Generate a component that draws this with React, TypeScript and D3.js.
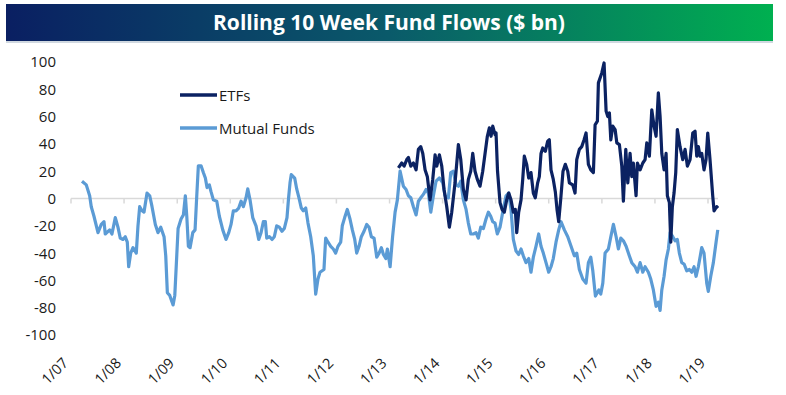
import React from "react";
import * as d3 from "d3";

// Mutual Funds rolling 10-week flows ($ bn), dates as decimal years
const mfDates = [
  2007.207, 2007.288, 2007.352, 2007.382, 2007.433, 2007.509, 2007.571, 2007.622, 2007.646, 2007.729,
  2007.772, 2007.835, 2007.885, 2007.929, 2007.980, 2008.023, 2008.061, 2008.087, 2008.125, 2008.168,
  2008.230, 2008.262, 2008.294, 2008.338, 2008.375, 2008.432, 2008.483, 2008.526, 2008.588, 2008.639,
  2008.690, 2008.752, 2008.784, 2008.814, 2008.859, 2008.922, 2008.954, 2009.016, 2009.072, 2009.116,
  2009.153, 2009.180, 2009.210, 2009.242, 2009.293, 2009.336, 2009.368, 2009.398, 2009.449, 2009.492,
  2009.530, 2009.562, 2009.605, 2009.637, 2009.681, 2009.745, 2009.794, 2009.858, 2009.920, 2009.971,
  2010.014, 2010.058, 2010.108, 2010.159, 2010.203, 2010.246, 2010.297, 2010.329, 2010.372, 2010.423,
  2010.485, 2010.536, 2010.580, 2010.623, 2010.661, 2010.687, 2010.736, 2010.787, 2010.830, 2010.875,
  2010.924, 2010.975, 2011.018, 2011.069, 2011.098, 2011.126, 2011.150, 2011.214, 2011.252, 2011.295,
  2011.339, 2011.376, 2011.422, 2011.465, 2011.516, 2011.565, 2011.610, 2011.653, 2011.691, 2011.766,
  2011.798, 2011.842, 2011.893, 2011.942, 2011.987, 2012.030, 2012.081, 2012.111, 2012.156, 2012.205,
  2012.256, 2012.300, 2012.345, 2012.382, 2012.426, 2012.469, 2012.520, 2012.571, 2012.614, 2012.657,
  2012.708, 2012.759, 2012.803, 2012.846, 2012.884, 2012.929, 2012.959, 2013.010, 2013.057, 2013.104,
  2013.147, 2013.198, 2013.260, 2013.311, 2013.355, 2013.400, 2013.449, 2013.500, 2013.543, 2013.588,
  2013.637, 2013.688, 2013.731, 2013.777, 2013.826, 2013.876, 2013.939, 2014.003, 2014.046, 2014.108,
  2014.153, 2014.202, 2014.253, 2014.297, 2014.342, 2014.391, 2014.442, 2014.485, 2014.530, 2014.579,
  2014.630, 2014.673, 2014.719, 2014.768, 2014.818, 2014.862, 2014.907, 2014.945, 2014.988, 2015.031,
  2015.082, 2015.133, 2015.195, 2015.246, 2015.289, 2015.333, 2015.384, 2015.434, 2015.478, 2015.521,
  2015.572, 2015.623, 2015.666, 2015.710, 2015.760, 2015.811, 2015.855, 2015.898, 2015.949, 2016.000,
  2016.043, 2016.086, 2016.137, 2016.188, 2016.231, 2016.294, 2016.358, 2016.420, 2016.482, 2016.527,
  2016.576, 2016.640, 2016.702, 2016.746, 2016.791, 2016.829, 2016.878, 2016.942, 2016.979, 2017.017,
  2017.060, 2017.122, 2017.168, 2017.217, 2017.268, 2017.311, 2017.356, 2017.405, 2017.456, 2017.499,
  2017.563, 2017.626, 2017.669, 2017.720, 2017.771, 2017.814, 2017.876, 2017.921, 2017.970, 2018.021,
  2018.064, 2018.097, 2018.129, 2018.172, 2018.210, 2018.253, 2018.285, 2018.336, 2018.379, 2018.422,
  2018.460, 2018.505, 2018.549, 2018.600, 2018.649, 2018.694, 2018.737, 2018.775, 2018.818, 2018.882,
  2018.925, 2018.976, 2019.006, 2019.052, 2019.101, 2019.152, 2019.184,
];
const mfValues = [
  12.7, 10, 2, -6, -13, -25, -19, -17, -26, -23,
  -26, -14, -21, -29, -30, -28, -32, -50, -40, -36,
  -40, -20, -6, -9, -10, 4, 2, -6, -19, -25,
  -21, -28, -42, -69, -71, -78, -71, -22, -15, -12,
  2, -13, -35, -36, -25, -23, 2, 24, 24, 19,
  15, 8, 10, 5, -1, -2, -13, -23, -30, -25,
  -19, -9, -9, -7, -2, -6, 0.5, 7, -1, -14,
  -20, -30, -25, -17, -17, -29, -28, -30, -28, -20,
  -21, -24, -22, -14, 0, 11.5, 17.5, 15, 7, 0.5,
  -7, -9, -7, -18, -28, -42, -70, -59, -54, -52,
  -29, -32, -35, -37, -40, -35, -32, -20, -14, -8,
  -15, -23, -30, -40, -35, -28, -24, -19, -21, -28,
  -29, -43, -40, -36, -41, -44, -37, -50, -28, -10,
  -1, 20, 9, 6.6, 2, 0.5, -6, -12, -2, 0.5,
  3, 6.6, 4, -10, 2, 12.7, 15, 11.5, 2, 0.5,
  19, 20, 10, 9, 12.7, -1, -8, -18, -26, -26,
  -25, -29, -21, -22, -15, -10, -13, -17, -18, -26,
  -21, -10, 2, 4, -8, -30, -38.5, -41, -37, -42,
  -47, -44, -54, -43, -35, -26, -35, -40, -47, -54,
  -50, -44, -32, -23, -17, -23, -28, -35, -42, -40,
  -52, -59, -62, -47, -43, -53, -71.5, -67, -70, -62,
  -40, -37, -28, -19, -28, -37, -29, -31, -35, -40,
  -47, -50, -54, -47, -54, -50, -54, -59, -67, -79,
  -76, -82, -67, -57, -45, -37, -25, -28, -31, -30,
  -40, -47, -48, -53, -52, -54, -50, -57, -50, -36,
  -40, -62, -68, -57, -47, -32, -23,
];

// ETFs rolling 10-week flows ($ bn)
const etfDates = [
  2013.166, 2013.230, 2013.274, 2013.324, 2013.355, 2013.400, 2013.449, 2013.500, 2013.543, 2013.588,
  2013.626, 2013.669, 2013.712, 2013.763, 2013.814, 2013.858, 2013.890, 2013.939, 2013.984, 2014.027,
  2014.078, 2014.127, 2014.172, 2014.234, 2014.297, 2014.342, 2014.391, 2014.442, 2014.485, 2014.530,
  2014.568, 2014.611, 2014.654, 2014.705, 2014.756, 2014.800, 2014.843, 2014.881, 2014.913, 2014.945,
  2014.988, 2015.007, 2015.035, 2015.082, 2015.120, 2015.163, 2015.208, 2015.246, 2015.289, 2015.333,
  2015.370, 2015.397, 2015.434, 2015.478, 2015.510, 2015.540, 2015.585, 2015.623, 2015.666, 2015.710,
  2015.747, 2015.792, 2015.823, 2015.855, 2015.887, 2015.936, 2015.981, 2016.011, 2016.043, 2016.086,
  2016.124, 2016.156, 2016.188, 2016.231, 2016.269, 2016.312, 2016.358, 2016.388, 2016.452, 2016.495,
  2016.527, 2016.576, 2016.621, 2016.665, 2016.702, 2016.746, 2016.791, 2016.840, 2016.872, 2016.915,
  2016.934, 2016.998, 2017.041, 2017.079, 2017.111, 2017.141, 2017.168, 2017.205, 2017.249, 2017.281,
  2017.330, 2017.375, 2017.405, 2017.450, 2017.488, 2017.531, 2017.563, 2017.593, 2017.644, 2017.669,
  2017.720, 2017.771, 2017.814, 2017.846, 2017.895, 2017.940, 2017.983, 2018.021, 2018.064, 2018.097,
  2018.129, 2018.172, 2018.210, 2018.234, 2018.272, 2018.298, 2018.328, 2018.360, 2018.392, 2018.422,
  2018.473, 2018.524, 2018.568, 2018.611, 2018.662, 2018.713, 2018.756, 2018.788, 2018.818, 2018.850,
  2018.882, 2018.925, 2018.963, 2018.995, 2019.038, 2019.089, 2019.114, 2019.164, 2019.189,
];
const etfValues = [
  22.4, 26, 23.7, 28.5, 30, 23.7, 26, 21, 36, 38,
  33, 21, 16, -1, 14, 32, 23.7, 32, 23.7, 6.6,
  -6, -21, -10, 11.5, 39.5, 28.5, 6.6, -1, 14, 20,
  33, 20, 14, 9, 20, 33, 45.6, 51.7, 45.6, 53,
  46.8, 48, 20, -3, -8, -10, -1, 4, -1, -10,
  -8, -25, -10, -1, 14, 31, 25, 15, 19, 4,
  0.5, 11.5, 16, 33, 37, 34.6, 42, 43, 21, 14,
  5, -8, -17, 2, 20, 25, 20, 11.5, 10, 4,
  28.5, 36, 38, 43, 48, 25, 21, 19, 54, 56.6,
  84.7, 92, 99.3, 64, 60, 62.7, 43, 53, 50.5, 40.8,
  39.5, 23.7, -2, 36, 11.5, 33, 16, 26, 2, 26,
  21, 26, 28.5, 40.8, 31, 65, 53, 45.6, 77.4, 60,
  33, 21, 33, 2, -3, -32, -6, 4, 19, 50.5,
  38, 28.5, 36, 23.7, 28.5, 48, 49.3, 31, 38, 31,
  33, 21, 28.5, 48, 28.5, 2, -9, -6, -7,
];

const yTicks = [100, 80, 60, 40, 20, 0, -20, -40, -60, -80, -100];
const yearTicks = [2007, 2008, 2009, 2010, 2011, 2012, 2013, 2014, 2015, 2016, 2017, 2018, 2019];
const seriesNames = ["ETFs", "Mutual Funds"];
const title = "Rolling 10 Week Fund Flows ($ bn)";

const decToDate = (d: number) => {
  const y = Math.floor(d);
  const s = Date.UTC(y, 0, 1);
  const e = Date.UTC(y + 1, 0, 1);
  return new Date(s + (d - y) * (e - s));
};

const W = 786;
const H = 395;
const FONT = "'Open Sans', 'DejaVu Sans', sans-serif";
const ETF_COLOR = "#0b2262";
const MF_COLOR = "#5b9bd5";

export default function App() {
  const x = d3
    .scaleUtc()
    .domain([new Date(Date.UTC(2007, 0, 1)), new Date(Date.UTC(2019, 0, 1))])
    .range([71, 708]);
  const y = d3.scaleLinear().domain([-100, 100]).range([335, 62]);

  const mf = mfDates.map((d, i) => ({ date: decToDate(d), v: mfValues[i] }));
  const etf = etfDates.map((d, i) => ({ date: decToDate(d), v: etfValues[i] }));
  const line = d3
    .line<{ date: Date; v: number }>()
    .x((d) => x(d.date))
    .y((d) => y(d.v));

  const lastDate = decToDate(Math.max(mfDates[mfDates.length - 1], etfDates[etfDates.length - 1]));
  const fmt = d3.utcFormat("%-m/%y");

  return (
    <svg
      width={W}
      height={H}
      style={{ position: "absolute", left: 0, top: 0, background: "#fff" }}
      fontFamily={FONT}
    >
      <defs>
        <linearGradient id="tg" x1="0" x2="1" y1="0" y2="0">
          <stop offset="0" stopColor="#0a1f62" />
          <stop offset="0.5" stopColor="#0a5a6a" />
          <stop offset="1" stopColor="#00b050" />
        </linearGradient>
      </defs>
      <rect x={6} y={41} width={767} height={2} fill="#d0d8e0" />
      <rect x={6} y={4} width={767} height={37} fill="url(#tg)" />
      <text
        x={389}
        y={30}
        textAnchor="middle"
        fill="#fff"
        fontWeight="bold"
        fontSize={21}
        textLength={352}
        lengthAdjust="spacingAndGlyphs"
      >
        {title}
      </text>

      {/* y tick labels */}
      {yTicks.map((t) => (
        <text key={t} x={56} y={y(t)} dy="0.36em" textAnchor="end" fontSize={15} fill="#1a1a1a">
          {t}
        </text>
      ))}

      {/* zero axis line */}
      <line x1={71} x2={x(lastDate)} y1={y(0)} y2={y(0)} stroke="#d9d9d9" strokeWidth={1.5} />
      {yearTicks.map((yr) => {
        const d = new Date(Date.UTC(yr, 0, 1));
        return (
          <line key={yr} x1={x(d)} x2={x(d)} y1={y(0)} y2={y(0) + 5} stroke="#d9d9d9" strokeWidth={1.5} />
        );
      })}

      {/* lines */}
      <path d={line(mf) || ""} fill="none" stroke={MF_COLOR} strokeWidth={3.2} strokeLinejoin="round" />
      <path d={line(etf) || ""} fill="none" stroke={ETF_COLOR} strokeWidth={3.2} strokeLinejoin="round" />

      {/* x labels */}
      {yearTicks.map((yr) => {
        const d = new Date(Date.UTC(yr, 0, 1));
        const tx = x(d) - 2;
        const ty = 364;
        return (
          <text
            key={yr}
            x={tx}
            y={ty}
            textAnchor="end"
            fontSize={14.5}
            fill="#1a1a1a"
            transform={`rotate(-45 ${tx} ${ty})`}
          >
            {fmt(d)}
          </text>
        );
      })}

      {/* legend */}
      <line x1={180} x2={217} y1={95} y2={95} stroke={ETF_COLOR} strokeWidth={3.5} />
      <text x={219} y={100.5} fontSize={15} fill="#1a1a1a">
        {seriesNames[0]}
      </text>
      <line x1={180} x2={217} y1={128} y2={128} stroke={MF_COLOR} strokeWidth={3.5} />
      <text x={219} y={133.5} fontSize={15} fill="#1a1a1a">
        {seriesNames[1]}
      </text>
    </svg>
  );
}
